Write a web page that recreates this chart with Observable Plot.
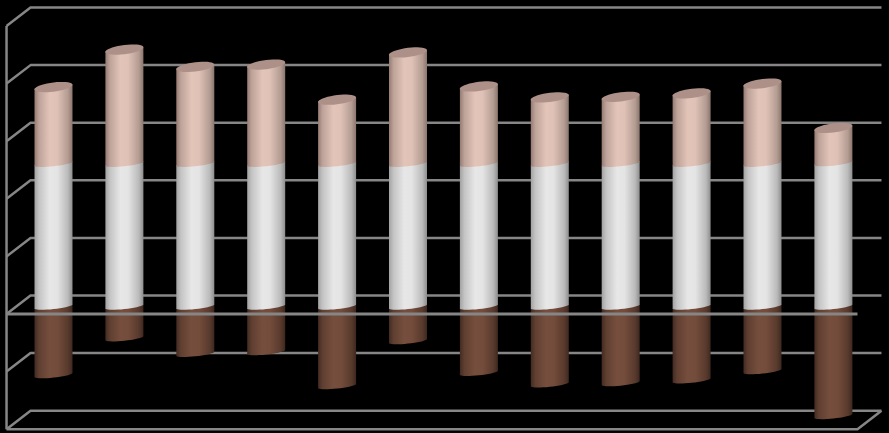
<!DOCTYPE html>
<html>
<head>
<meta charset="utf-8">
<style>html,body{margin:0;padding:0;background:#000;overflow:hidden}svg{display:block}</style>
<script src="https://cdn.jsdelivr.net/npm/d3@7"></script>
<script src="https://cdn.jsdelivr.net/npm/@observablehq/plot@0.6"></script>
</head>
<body>
<div id="chart"></div>
<script>
const categories = [0,1,2,3,4,5,6,7,8,9,10,11];
const whiteValues = [248,248,248,248,248,248,248,248,248,248,248,249];
const pinkValues = [133,198,168,172,111,193,134,115,116,122,139,61];
const brownValues = [-119,-55,-82,-79,-138,-60,-115,-135,-133,-128,-112,-190];
const gridTicks = [-200,-100,0,100,200,300,400,500];

// 3D projection constants, in data units
const depthX = 0.3385, depthY = 32.1;
const backLeft = -0.324, backRight = 11.678;
const midY = depthY / 2 + 3;
const radius = 0.268;
const arcTilt = 3.5, arcSquash = 4.5;
const capTilt = 4, capSquash = 8;
const steps = d3.range(0, 37).map(k => k * Math.PI / 18);
const halfSteps = steps.filter(a => a <= Math.PI + 1e-9);

// near arc of the base (left to right), then far arc of the top (right to left)
const cyl = (i, lo, hi, id) => [
  ...halfSteps.map(t => ({id, x: i - radius * Math.cos(t), y: lo - midY - arcTilt * Math.cos(t) - arcSquash * Math.sin(t)})),
  ...halfSteps.map(t => ({id, x: i + radius * Math.cos(t), y: hi - midY + arcTilt * Math.cos(t) + arcSquash * Math.sin(t)}))
];
const cap = (i, v, id) => steps.map(t => ({
  id, x: i + radius * Math.cos(t), y: v - midY + capTilt * Math.cos(t) + capSquash * Math.sin(t)
}));
const brown = categories.flatMap(i => cyl(i, brownValues[i], 0, "b" + i));
const white = categories.flatMap(i => cyl(i, 0, whiteValues[i], "w" + i));
const pink = categories.flatMap(i => cyl(i, whiteValues[i], whiteValues[i] + pinkValues[i], "p" + i));
const caps = categories.flatMap(i => cap(i, whiteValues[i] + pinkValues[i], "c" + i));

const backLines = gridTicks.flatMap(v => [
  {id: v, x: backLeft - depthX, y: v - depthY},
  {id: v, x: backLeft, y: v},
  {id: v, x: backRight, y: v}
]);
const leftEdge = [
  {x: backLeft - depthX, y: gridTicks[0] - depthY},
  {x: backLeft - depthX, y: gridTicks[gridTicks.length - 1] - depthY}
];
const floor = [
  {x: backLeft - depthX, y: -200 - depthY},
  {x: backRight - depthX, y: -200 - depthY},
  {x: backRight, y: -200}
];
const zeroLine = [
  {x: backLeft - depthX, y: -depthY},
  {x: backRight - depthX, y: -depthY}
];

const grid = "#868686";
const lineOpts = {x: "x", y: "y", stroke: grid, strokeWidth: 2.5, strokeLinecap: "butt", curve: "linear"};
const solid = (data, fill) => Plot.line(data, {x: "x", y: "y", z: "id", fill, stroke: "none", curve: "linear"});

const plot = Plot.plot({
  width: 889, height: 433,
  margin: 0,
  style: {background: "#000"},
  x: {type: "linear", domain: [-53 / 70.9, 836 / 70.9], range: [0, 889], axis: null},
  y: {type: "linear", domain: [-239.6, 512.2], range: [433, 0], axis: null},
  marks: [
    Plot.line(backLines, {...lineOpts, z: "id"}),
    Plot.line(leftEdge, lineOpts),
    Plot.line(floor, lineOpts),
    solid(brown, "url(#gBrown)"),
    solid(white, "url(#gWhite)"),
    solid(pink, "url(#gPink)"),
    solid(caps, "#ad9088"),
    Plot.line(zeroLine, {...lineOpts, strokeWidth: 3})
  ]
});

const defs = d3.select(plot).insert("defs", ":first-child");
const grad = (id, stops) => {
  const g = defs.append("linearGradient").attr("id", id).attr("x1", 0).attr("x2", 1).attr("y1", 0).attr("y2", 0);
  stops.forEach(([o, c]) => g.append("stop").attr("offset", o).attr("stop-color", c));
};
grad("gWhite", [[0, "#a2a2a2"], [0.12, "#c4c4c4"], [0.4, "#e7e7e7"], [0.6, "#e4e4e4"], [0.88, "#bababa"], [1, "#8e8e8e"]]);
grad("gPink", [[0, "#957b72"], [0.12, "#bda399"], [0.4, "#e3c4b9"], [0.6, "#dfc1b6"], [0.88, "#b39c92"], [1, "#8b766d"]]);
grad("gBrown", [[0, "#432b22"], [0.12, "#5f3f31"], [0.4, "#764e3d"], [0.6, "#744c3b"], [0.88, "#583a2d"], [1, "#3e281f"]]);

document.getElementById("chart").append(plot);
</script>
</body>
</html>
